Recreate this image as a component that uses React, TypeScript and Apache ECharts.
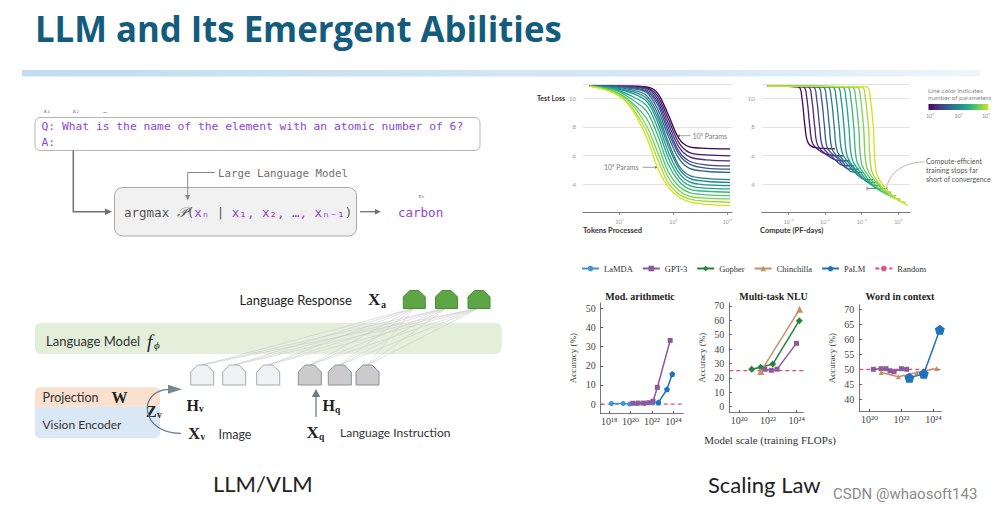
import React, { useEffect, useRef } from 'react';
import * as echarts from 'echarts';

// ---------------- DATA ----------------
const SUP: Record<string, string> = { '0': '⁰', '1': '¹', '2': '²', '3': '³', '4': '⁴', '5': '⁵', '6': '⁶', '7': '⁷', '8': '⁸', '9': '⁹', '-': '⁻' };
const pow10 = (v: number) => '10' + String(Math.round(v)).split('').map((c) => SUP[c] || c).join('');

const viridis = ['#440154', '#481a6c', '#472f7d', '#414487', '#39568c', '#31688e', '#2a788e', '#23888e', '#1f988b', '#22a884', '#35b779', '#54c568', '#7ad151', '#a5db36', '#d2e21b'];

// Test loss vs tokens processed (log10 tokens)
const tokensX = [5.9, 6.8, 7.4, 8.0, 8.4, 8.8, 9.2, 9.6, 10.2, 11.1];
const tokensLoss = [
  [10.85, 10.85, 10.85, 10.8, 10.4, 8.9, 7.2, 6.6, 6.5, 6.47],
  [10.85, 10.85, 10.85, 10.75, 10.2, 8.6, 6.9, 6.2, 6.05, 5.98],
  [10.85, 10.85, 10.8, 10.7, 10.0, 8.3, 6.6, 5.9, 5.7, 5.63],
  [10.85, 10.85, 10.8, 10.6, 9.8, 8.0, 6.3, 5.6, 5.35, 5.28],
  [10.85, 10.85, 10.75, 10.5, 9.6, 7.7, 6.1, 5.4, 5.12, 5.05],
  [10.85, 10.8, 10.7, 10.4, 9.3, 7.4, 5.8, 5.1, 4.9, 4.82],
  [10.85, 10.8, 10.6, 10.2, 9.0, 7.0, 5.3, 4.6, 4.4, 4.31],
  [10.85, 10.75, 10.5, 10.0, 8.7, 6.7, 5.1, 4.4, 4.2, 4.12],
  [10.85, 10.7, 10.4, 9.8, 8.4, 6.3, 4.8, 4.15, 3.95, 3.89],
  [10.85, 10.65, 10.2, 9.5, 8.0, 5.9, 4.5, 3.9, 3.72, 3.66],
  [10.85, 10.6, 10.0, 9.1, 7.5, 5.4, 4.2, 3.65, 3.5, 3.43],
  [10.85, 10.5, 9.8, 8.6, 6.9, 4.9, 3.85, 3.4, 3.25, 3.19],
  [10.85, 10.45, 9.7, 8.1, 6.3, 4.5, 3.55, 3.15, 3.02, 2.96],
  [10.85, 10.4, 9.5, 7.7, 5.8, 4.1, 3.3, 2.95, 2.8, 2.73],
  [10.85, 10.35, 9.4, 7.3, 5.2, 3.8, 3.1, 2.75, 2.58, 2.49],
];

// Test loss vs compute (log10 PF-days), one list of [x, loss] per model size
const computeCurves = [
  [[-10.7, 10.85], [-8.2, 10.8], [-7.9, 10.0], [-7.65, 8.0], [-7.4, 6.9], [-6.8, 6.55], [-5.2, 6.47]],
  [[-10.7, 10.85], [-7.8, 10.8], [-7.5, 10.0], [-7.25, 8.0], [-7.0, 6.8], [-6.2, 6.2], [-5.4, 6.0], [-4.5, 5.98]],
  [[-10.7, 10.85], [-7.4, 10.8], [-7.1, 10.0], [-6.85, 8.0], [-6.6, 6.7], [-5.8, 6.0], [-4.9, 5.65], [-4.0, 5.63]],
  [[-10.7, 10.85], [-7.0, 10.8], [-6.7, 10.0], [-6.45, 8.0], [-6.2, 6.6], [-5.4, 5.9], [-4.5, 5.3], [-3.6, 5.28]],
  [[-10.7, 10.85], [-6.6, 10.8], [-6.3, 10.0], [-6.05, 8.0], [-5.8, 6.5], [-5.0, 5.8], [-4.1, 5.07], [-3.2, 5.05]],
  [[-10.7, 10.85], [-6.2, 10.8], [-5.9, 10.0], [-5.65, 8.0], [-5.4, 6.4], [-4.6, 5.6], [-3.8, 4.85], [-2.9, 4.82]],
  [[-10.7, 10.85], [-5.8, 10.8], [-5.5, 10.0], [-5.25, 8.0], [-5.0, 6.3], [-4.2, 5.4], [-3.3, 4.6], [-2.8, 4.33], [-2.0, 4.31]],
  [[-10.7, 10.85], [-5.4, 10.8], [-5.1, 10.0], [-4.85, 8.0], [-4.6, 6.2], [-3.9, 5.3], [-3.0, 4.5], [-2.5, 4.14], [-1.7, 4.12]],
  [[-10.7, 10.85], [-5.0, 10.8], [-4.7, 10.0], [-4.45, 8.0], [-4.2, 6.0], [-3.5, 5.0], [-2.6, 4.2], [-2.1, 3.91], [-1.4, 3.89]],
  [[-10.7, 10.85], [-4.6, 10.8], [-4.3, 10.0], [-4.05, 8.0], [-3.8, 5.8], [-3.1, 4.8], [-2.3, 4.05], [-1.7, 3.68], [-1.0, 3.66]],
  [[-10.7, 10.85], [-4.2, 10.8], [-3.9, 10.0], [-3.65, 8.0], [-3.4, 5.6], [-2.7, 4.6], [-1.9, 3.8], [-1.2, 3.45], [-0.6, 3.43]],
  [[-10.7, 10.85], [-3.8, 10.8], [-3.5, 10.0], [-3.25, 8.0], [-3.0, 5.4], [-2.3, 4.4], [-1.5, 3.6], [-0.7, 3.21], [-0.2, 3.19]],
  [[-10.7, 10.85], [-3.4, 10.8], [-3.1, 10.0], [-2.85, 8.0], [-2.6, 5.2], [-1.9, 4.2], [-1.1, 3.45], [-0.2, 2.98], [0.2, 2.96]],
  [[-10.7, 10.85], [-3.0, 10.8], [-2.7, 10.0], [-2.45, 8.0], [-2.2, 5.0], [-1.5, 3.95], [-0.7, 3.3], [0.3, 2.75], [0.6, 2.73]],
  [[-10.7, 10.85], [-2.6, 10.8], [-2.3, 10.0], [-2.05, 8.0], [-1.8, 4.8], [-1.1, 3.75], [-0.3, 3.1], [0.8, 2.49]],
];

const tokensTicks = [7, 9, 11];
const computeTicks = [-9, -6, -3, 0];
const lossTicksY = [4, 6, 8, 10];

// Emergent abilities (x = log10 training FLOPs, y = accuracy %)
const modLaMDA = [[18.2, 0.3], [19.3, 0.3], [19.9, 0], [20.6, 0.2], [21.3, 0.3], [22.1, 0.5]];
const modGPT3 = [[20.2, 0.4], [20.7, 0.5], [21.2, 0.5], [21.7, 0.7], [22.1, 1.5], [22.5, 8.7], [23.7, 33.3]];
const modPaLM = [[22.6, 0.8], [23.4, 7.7], [23.9, 15.7]];
const nluGopher = [[20.86, 26], [21.49, 27.4], [22.33, 29.6], [24.18, 59.7]];
const nluChinchilla = [[21.5, 24.5], [24.2, 67.6]];
const nluGPT3 = [[21.77, 26], [22.23, 25.3], [22.63, 26.1], [23.98, 44]];
const wicGPT3 = [[20.25, 50], [20.73, 50.2], [21.04, 50.2], [21.29, 49.5], [21.54, 49.2], [22.0, 50.2], [22.33, 50]];
const wicChinchilla = [[20.73, 48.9], [21.81, 47.5], [22.96, 48.9], [24.2, 50.3]];
const wicPaLM = [[22.5, 47.2], [23.4, 48.5], [24.4, 63.2]];
const randomLevels = [0, 25, 50];

const modTicksX = [18, 20, 22, 24];
const nluTicksX = [20, 22, 24];
const wicTicksX = [20, 22, 24];
const modTicksY = [0, 10, 20, 30, 40, 50];
const nluTicksY = [0, 10, 20, 30, 40, 50, 60, 70];
const wicTicksY = [40, 45, 50, 55, 60, 65, 70];

const legendNames = ['LaMDA', 'GPT-3', 'Gopher', 'Chinchilla', 'PaLM', 'Random'];

// ---------------- STYLE ----------------
const C = { LaMDA: '#3f95d8', 'GPT-3': '#8e5a9c', Gopher: '#23843a', Chinchilla: '#c49068', PaLM: '#1f72bd', Random: '#e64d7d' };
const PENT = 'path://M0,-1L0.95,-0.31L0.59,0.81L-0.59,0.81L-0.95,-0.31Z';
const SERIF = '"Liberation Serif", "DejaVu Serif", serif';
const SANS = 'Lato, "Open Sans", sans-serif';
const MONO = '"DejaVu Sans Mono", "Liberation Mono", monospace';

function buildOption() {
  const grids = [
    { left: 583, top: 84, width: 149, height: 128.7 },
    { left: 761.7, top: 84, width: 148.3, height: 128.7 },
    { left: 600.7, top: 302.8, width: 82.6, height: 110.8 },
    { left: 729.3, top: 303, width: 74, height: 109.5 },
    { left: 859.3, top: 304.8, width: 82.1, height: 106.5 },
  ];

  const lossX = (gi: number, min: number, max: number, ticks: number[]) => ({
    gridIndex: gi, type: 'value', min, max,
    axisLine: { show: true, lineStyle: { color: '#777', width: 1 } },
    axisTick: { show: true, customValues: ticks, length: 2, lineStyle: { color: '#777' } },
    axisLabel: { customValues: ticks, formatter: pow10, fontSize: 5.5, color: '#999', margin: 6, fontFamily: SANS },
    splitLine: { show: false },
  });
  const lossY = (gi: number) => ({
    gridIndex: gi, type: 'value', min: 2, max: 11, interval: 2,
    axisLine: { show: false }, axisTick: { show: false },
    axisLabel: { customValues: lossTicksY, fontSize: 6, color: '#999', margin: 7, fontFamily: SANS },
    splitLine: { show: true, lineStyle: { color: '#dcdcdc', width: 0.8 } },
  });
  const accX = (gi: number, min: number, max: number, ticks: number[]) => ({
    gridIndex: gi, type: 'value', min, max,
    axisLine: { show: true, onZero: false, lineStyle: { color: '#555', width: 0.8 } },
    axisTick: { show: true, inside: true, customValues: ticks, length: 2.5, lineStyle: { color: '#555' } },
    axisLabel: { customValues: ticks, formatter: pow10, fontSize: 10, color: '#444', margin: 3, fontFamily: SERIF },
    splitLine: { show: false },
  });
  const accY = (gi: number, min: number, max: number, ticks: number[]) => ({
    gridIndex: gi, type: 'value', min, max,
    name: 'Accuracy (%)', nameLocation: 'middle', nameGap: 23, nameRotate: 90,
    nameTextStyle: { fontFamily: SERIF, fontSize: 9, color: '#444' },
    axisLine: { show: true, onZero: false, lineStyle: { color: '#555', width: 0.8 } },
    axisTick: { show: true, inside: true, customValues: ticks, length: 2.5, lineStyle: { color: '#555' } },
    axisLabel: { customValues: ticks, fontSize: 10, color: '#444', margin: 5, fontFamily: SERIF },
    splitLine: { show: false },
  });

  const series: any[] = [];
  tokensLoss.forEach((row, i) => {
    series.push({
      type: 'line', xAxisIndex: 0, yAxisIndex: 0, silent: true, showSymbol: false, smooth: 0.35,
      data: tokensX.map((x, j) => [x, row[j]]),
      lineStyle: { color: viridis[i], width: 1.3 },
    });
  });
  computeCurves.forEach((pts, i) => {
    series.push({
      type: 'line', xAxisIndex: 1, yAxisIndex: 1, silent: true, showSymbol: false, smooth: 0.35,
      data: pts, lineStyle: { color: viridis[i], width: 1.3 },
    });
  });

  const acc = (name: string, gi: number, data: number[][], symbol: string, size: number) => ({
    name, type: 'line', xAxisIndex: gi, yAxisIndex: gi, data, symbol, symbolSize: size, showSymbol: true,
    color: (C as any)[name], lineStyle: { width: 1.5, color: (C as any)[name] }, itemStyle: { color: (C as any)[name] },
  });
  series.push(acc('LaMDA', 2, modLaMDA, 'circle', 5));
  series.push(acc('GPT-3', 2, modGPT3, 'rect', 5));
  series.push(acc('PaLM', 2, modPaLM, PENT, 6));
  series.push(acc('Gopher', 3, nluGopher, 'diamond', 7));
  series.push(acc('Chinchilla', 3, nluChinchilla, 'triangle', 7));
  series.push(acc('GPT-3', 3, nluGPT3, 'rect', 5));
  series.push(acc('GPT-3', 4, wicGPT3, 'rect', 5));
  series.push(acc('Chinchilla', 4, wicChinchilla, 'triangle', 5));
  series.push(acc('PaLM', 4, wicPaLM, PENT, 10));
  const ranges = [[17.2, 24.93], [19.3, 24.46], [19.37, 24.5]];
  randomLevels.forEach((lvl, k) => {
    series.push({
      name: 'Random', type: 'line', xAxisIndex: k + 2, yAxisIndex: k + 2, showSymbol: false, symbol: 'none',
      data: [[ranges[k][0], lvl], [ranges[k][1], lvl]], color: C.Random,
      lineStyle: { type: [4, 3], width: 1.2, color: C.Random }, z: 1,
    });
  });

  // ---------------- GRAPHICS ----------------
  const g: any[] = [];
  const txt = (x: number, y: number, text: string, font: string, fill: string, align = 'left', extra: any = {}) => ({
    type: 'text', x, y, silent: true, ...extra,
    style: { text, font, fill, textAlign: align, textVerticalAlign: 'middle', verticalAlign: 'middle', align },
  });
  const line = (x1: number, y1: number, x2: number, y2: number, stroke: string, w = 1) => ({
    type: 'line', silent: true, shape: { x1, y1, x2, y2 }, style: { stroke, lineWidth: w },
  });
  const poly = (points: number[][], fill: string, stroke?: string, w = 1) => ({
    type: 'polygon', silent: true, shape: { points }, style: { fill, stroke, lineWidth: w },
  });
  const house = (x0: number, y0: number, w: number, h: number, fill: string, stroke: string) =>
    poly([[x0, y0 + h], [x0, y0 + h * 0.35], [x0 + w * 0.3, y0], [x0 + w * 0.7, y0], [x0 + w, y0 + h * 0.35], [x0 + w, y0 + h]], fill, stroke, 1);

  // Title + bar
  g.push(txt(35, 28, 'LLM and Its Emergent Abilities', `bold 36px "Open Sans"`, '#135c7d', 'left', { scaleX: 0.965 }));
  g.push({
    type: 'rect', silent: true, shape: { x: 22, y: 70, width: 958, height: 6.5 },
    style: { fill: new echarts.graphic.LinearGradient(0, 0, 1, 0, [{ offset: 0, color: '#c3ddef' }, { offset: 0.7, color: '#d6e8f4' }, { offset: 1, color: '#eef5fa' }]) },
  });

  // ---- LLM diagram ----
  const purple = '#8d45d6';
  g.push(txt(47, 110, 'x₁', `6px ${MONO}`, '#666', 'center'));
  g.push(txt(76, 110, 'x₂', `6px ${MONO}`, '#666', 'center'));
  g.push(txt(105, 110, '…', `6px ${MONO}`, '#888', 'center'));
  g.push({ type: 'rect', silent: true, shape: { x: 35, y: 117.5, width: 445, height: 33, r: 5 }, style: { fill: '#fff', stroke: '#b5b5b5', lineWidth: 1 } });
  g.push(txt(41.5, 126.5, 'Q: What is the name of the element with an atomic number of 6?', `11.3px ${MONO}`, purple));
  g.push(txt(41.5, 142, 'A:', `11.3px ${MONO}`, purple));
  g.push({ type: 'polyline', silent: true, shape: { points: [[73.3, 150.5], [73.3, 211.7], [106, 211.7]] }, style: { stroke: '#707070', lineWidth: 1.5, fill: 'none' } });
  g.push(poly([[105, 208.5], [112, 211.7], [105, 214.9]], '#707070'));
  g.push({ type: 'rect', silent: true, shape: { x: 114.5, y: 187.5, width: 242, height: 48.5, r: 8 }, style: { fill: '#f1f1f1', stroke: '#a8a8a8', lineWidth: 1 } });
  g.push({
    type: 'text', x: 124, y: 212.5, silent: true,
    style: {
      text: '{g|argmax }{s|𝒫}{g|(}{p|xₙ}{g| | }{p|x₁, x₂, …, xₙ₋₁}{g|)}',
      textVerticalAlign: 'middle', verticalAlign: 'middle',
      rich: {
        g: { font: `12.5px ${MONO}`, fill: '#555' },
        s: { font: `italic 14px ${SERIF}`, fill: '#555' },
        p: { font: `12.5px ${MONO}`, fill: purple },
      },
    },
  });
  g.push(txt(218, 173.5, 'Large Language Model', `10.8px ${MONO}`, '#707070'));
  g.push({ type: 'polyline', silent: true, shape: { points: [[215, 172.5], [187.7, 172.5], [187.7, 196]] }, style: { stroke: '#888', lineWidth: 1, fill: 'none' } });
  g.push(poly([[185.2, 195], [187.7, 200.5], [190.2, 195]], '#888'));
  g.push(line(360, 211.7, 376, 211.7, '#707070', 1.3));
  g.push(poly([[375, 209], [381, 211.7], [375, 214.4]], '#707070'));
  g.push(txt(398, 212, 'carbon', `12.5px ${MONO}`, purple));
  g.push(txt(421.5, 196, 'xₙ', `5.5px ${MONO}`, '#666', 'center'));

  // ---- VLM diagram ----
  g.push({ type: 'rect', silent: true, shape: { x: 35, y: 322.7, width: 466.7, height: 31.3, r: 6 }, style: { fill: '#e4efdb' } });
  g.push(txt(46, 340.5, 'Language Model', `13px ${SANS}`, '#333'));
  g.push(txt(147, 341, 'f', `italic 19px ${SERIF}`, '#222'));
  g.push(txt(154, 345, 'ϕ', `italic 11px ${SERIF}`, '#222'));
  const greens = [403.3, 435.5, 468];
  const lights = [190.7, 222.7, 256.7];
  const darks = [298.3, 328.3, 356];
  const inputs = [...lights, ...darks];
  inputs.forEach((x0) => {
    greens.forEach((gx) => {
      g.push(line(x0 + 11.5, 365, gx + 11, 308, '#cdcdcd', 0.6));
    });
  });
  greens.forEach((x0) => g.push(house(x0, 290.5, 22, 18, '#5da646', '#4b8d38')));
  lights.forEach((x0) => g.push(house(x0, 365, 23, 20, '#f1f2f3', '#a3abb3')));
  darks.forEach((x0) => g.push(house(x0, 365, 23, 20, '#cbcbcb', '#8d9399')));
  g.push(txt(239.5, 299.5, 'Language Response', `13px ${SANS}`, '#222'));
  g.push(txt(368, 299.5, 'X', `bold 17px ${SERIF}`, '#222'));
  g.push(txt(381, 304, 'a', `bold 10px ${SERIF}`, '#222'));

  g.push({ type: 'rect', silent: true, shape: { x: 35, y: 387.3, width: 125, height: 19.4, r: [5, 5, 0, 0] }, style: { fill: '#f9e0cf' } });
  g.push({ type: 'rect', silent: true, shape: { x: 35, y: 406.7, width: 125, height: 31.6, r: [0, 0, 5, 5] }, style: { fill: '#dae7f4' } });
  g.push(txt(42.5, 397.5, 'Projection', `12.5px ${SANS}`, '#333'));
  g.push(txt(111.5, 397.5, 'W', `bold 16px ${SERIF}`, '#222'));
  g.push(txt(42.5, 424, 'Vision Encoder', `12px ${SANS}`, '#333'));
  g.push(txt(146, 411.5, 'Z', `bold 16px ${SERIF}`, '#222'));
  g.push(txt(157, 415, 'v', `bold 9.5px ${SERIF}`, '#222'));
  g.push({
    type: 'bezierCurve', silent: true,
    shape: { x1: 181, y1: 433.3, cpx1: 140, cpy1: 434, cpx2: 137, cpy2: 390, x2: 169, y2: 389.3 },
    style: { stroke: '#64788e', lineWidth: 1.2, fill: 'none' },
  });
  g.push(poly([[168, 384.8], [182, 389.3], [168, 393.8]], '#7a8594'));
  g.push(txt(186.5, 405, 'H', `bold 16px ${SERIF}`, '#222'));
  g.push(txt(199, 409, 'v', `bold 9.5px ${SERIF}`, '#222'));
  g.push(txt(188, 433.5, 'X', `bold 17px ${SERIF}`, '#222'));
  g.push(txt(200.5, 437, 'v', `bold 9.5px ${SERIF}`, '#222'));
  g.push(txt(218.5, 434, 'Image', `12.5px ${SANS}`, '#333'));
  g.push(line(316, 396.5, 316, 417, '#6d7a88', 1.3));
  g.push(poly([[311.8, 397], [316, 389], [320.2, 397]], '#6d7a88'));
  g.push(txt(322.5, 405, 'H', `bold 16px ${SERIF}`, '#222'));
  g.push(txt(335, 409.5, 'q', `bold 9.5px ${SERIF}`, '#222'));
  g.push(txt(306.5, 432.5, 'X', `bold 17px ${SERIF}`, '#222'));
  g.push(txt(319, 437, 'q', `bold 9.5px ${SERIF}`, '#222'));
  g.push(txt(340, 432.5, 'Language Instruction', `12px ${SANS}`, '#333'));

  // ---- Loss plot annotations ----
  g.push(txt(537, 97.5, 'Test Loss', `bold 7px ${SANS}`, '#333'));
  g.push(txt(583, 230, 'Tokens Processed', `bold 7.5px ${SANS}`, '#333'));
  g.push(txt(760, 230, 'Compute (PF-days)', `bold 7.5px ${SANS}`, '#333'));
  g.push(line(678, 135.7, 690.5, 135.7, '#777', 0.7));
  g.push(poly([[676.5, 135.7], [680, 134.3], [680, 137.1]], '#777'));
  g.push(txt(692.5, 135.7, pow10(3) + ' Params', `7px ${SANS}`, '#777'));
  g.push(txt(604, 167.3, pow10(9) + ' Params', `7px ${SANS}`, '#777'));
  g.push(line(642.5, 167.3, 656.5, 167.3, '#777', 0.7));
  g.push(poly([[658.5, 167.3], [655, 165.9], [655, 168.7]], '#777'));
  g.push(txt(928, 90, 'Line color indicates', `6.5px ${SANS}`, '#888'));
  g.push(txt(928, 97.5, 'number of parameters', `6.5px ${SANS}`, '#888'));
  g.push({
    type: 'rect', silent: true, shape: { x: 928.5, y: 104, width: 60, height: 6 },
    style: { fill: new echarts.graphic.LinearGradient(0, 0, 1, 0, viridis.map((c, i) => ({ offset: i / (viridis.length - 1), color: c })).concat([{ offset: 1, color: '#fde725' }])) },
  });
  g.push(txt(930, 116, pow10(3), `5.5px ${SANS}`, '#888', 'center'));
  g.push(txt(958.5, 116, pow10(6), `5.5px ${SANS}`, '#888', 'center'));
  g.push(txt(986, 116, pow10(9), `5.5px ${SANS}`, '#888', 'center'));
  g.push(txt(926, 160.5, 'Compute-efficient', `7px ${SANS}`, '#555'));
  g.push(txt(926, 169.5, 'training stops far', `7px ${SANS}`, '#555'));
  g.push(txt(926, 178.5, 'short of convergence', `7px ${SANS}`, '#555'));
  g.push({
    type: 'bezierCurve', silent: true,
    shape: { x1: 924, y1: 162, cpx1: 905, cpy1: 162, cpx2: 890, cpy2: 172, x2: 887, y2: 186 },
    style: { stroke: '#999', lineWidth: 0.7, fill: 'none' },
  });
  g.push(line(867, 188.5, 887, 188.5, '#666', 0.8));
  g.push(line(867, 186.5, 867, 190.5, '#666', 0.8));
  g.push(line(887, 186.5, 887, 190.5, '#666', 0.8));

  // ---- Emergent titles ----
  g.push(txt(640, 296.5, 'Mod. arithmetic', `bold 10px ${SERIF}`, '#222', 'center'));
  g.push(txt(773.5, 296, 'Multi-task NLU', `bold 10px ${SERIF}`, '#222', 'center'));
  g.push(txt(900, 296, 'Word in context', `bold 10px ${SERIF}`, '#222', 'center'));
  g.push(txt(770, 440, 'Model scale (training FLOPs)', `11px ${SERIF}`, '#333', 'center'));

  // ---- Captions ----
  g.push(txt(213, 483.5, 'LLM/VLM', `22px ${SANS}`, '#222'));
  g.push(txt(708, 484, 'Scaling Law', `22px ${SANS}`, '#222'));
  g.push(txt(833, 494, 'CSDN @whaosoft143', `15px Roboto`, '#8a8a8a'));

  return {
    animation: false,
    backgroundColor: '#ffffff',
    grid: grids,
    xAxis: [
      lossX(0, 5.65, 11.17, tokensTicks),
      lossX(1, -11.2, 0.96, computeTicks),
      accX(2, 17.2, 24.93, modTicksX),
      accX(3, 19.3, 24.46, nluTicksX),
      accX(4, 19.37, 24.5, wicTicksX),
    ],
    yAxis: [
      lossY(0), lossY(1),
      accY(2, -5, 53, modTicksY),
      accY(3, -4, 72, nluTicksY),
      accY(4, 36, 71.5, wicTicksY),
    ],
    legend: {
      data: legendNames, left: 576, top: 259, itemWidth: 17, itemHeight: 7, itemGap: 9,
      textStyle: { fontFamily: SERIF, fontSize: 8.5, color: '#333' },
    },
    series,
    graphic: g,
  };
}

export default function App() {
  const ref = useRef<HTMLDivElement>(null);
  useEffect(() => {
    document.body.style.margin = '0';
    const chart = echarts.init(ref.current!, undefined, { renderer: 'svg', width: 1008, height: 509 });
    chart.setOption(buildOption() as any);
    return () => chart.dispose();
  }, []);
  return <div ref={ref} style={{ width: 1008, height: 509, position: 'fixed', left: 0, top: 0, background: '#fff' }} />;
}
